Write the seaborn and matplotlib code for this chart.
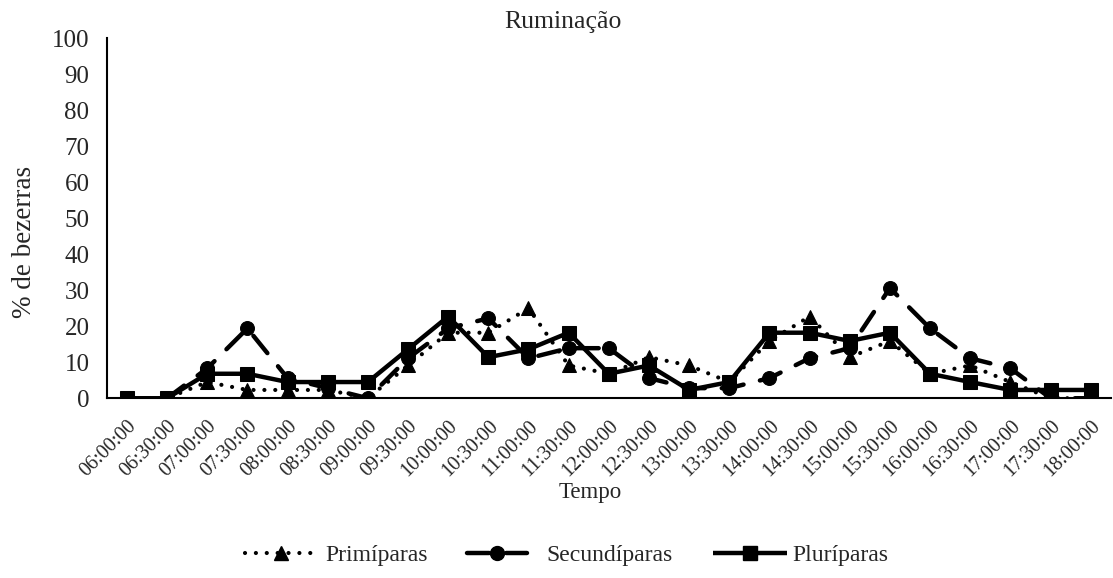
import matplotlib
matplotlib.use("Agg")
import matplotlib.pyplot as plt
from matplotlib.lines import Line2D
import seaborn as sns
import pandas as pd

# Horários de observação
tempos = ["06:00:00", "06:30:00", "07:00:00", "07:30:00", "08:00:00", "08:30:00",
          "09:00:00", "09:30:00", "10:00:00", "10:30:00", "11:00:00", "11:30:00",
          "12:00:00", "12:30:00", "13:00:00", "13:30:00", "14:00:00", "14:30:00",
          "15:00:00", "15:30:00", "16:00:00", "16:30:00", "17:00:00", "17:30:00",
          "18:00:00"]

# % de bezerras em ruminação por categoria de mãe
primiparas = [0, 0, 4.5, 2.3, 2.3, 2.3, 0, 9.1, 18.2, 18.2, 25.0, 9.1, 6.8,
              11.4, 9.1, 4.5, 15.9, 22.7, 11.4, 15.9, 6.8, 9.1, 4.5, 0, 0]
secundiparas = [0, 0, 8.3, 19.4, 5.6, 2.8, 0, 11.1, 19.4, 22.2, 11.1, 13.9, 13.9,
                5.6, 2.8, 2.8, 5.6, 11.1, 13.9, 30.6, 19.4, 11.1, 8.3, 0, 0]
pluriparas = [0, 0, 6.8, 6.8, 4.5, 4.5, 4.5, 13.6, 22.7, 11.4, 13.6, 18.2, 6.8,
              9.1, 2.3, 4.5, 18.2, 18.2, 15.9, 18.2, 6.8, 4.5, 2.3, 2.3, 2.3]

series = {"Primíparas": primiparas, "Secundíparas": secundiparas, "Pluríparas": pluriparas}

sns.set_theme(style="white")
plt.rcParams["font.family"] = ["Liberation Serif", "DejaVu Serif"]

fig = plt.figure(figsize=(11.13, 5.78), dpi=100)
ax = fig.add_axes([0.096, 0.311, 0.902, 0.623])

estilos = {
    "Primíparas": dict(marker="^", markersize=10.5, dashes=(0.01, 2.6), capstyle="round", lw=3.0),
    "Secundíparas": dict(marker="o", markersize=10, dashes=(5.0, 3.8), capstyle="round", lw=3.2),
    "Pluríparas": dict(marker="s", markersize=10, dashes=None, capstyle="butt", lw=3.2),
}

linhas = {}
for nome, valores in series.items():
    df = pd.DataFrame({"pos": range(len(tempos)), "valor": valores})
    st = estilos[nome]
    sns.lineplot(data=df, x="pos", y="valor", ax=ax, color="black",
                 marker=st["marker"], markersize=st["markersize"],
                 markeredgecolor="black", markerfacecolor="black",
                 linewidth=st["lw"], legend=False)
    line = ax.lines[-1]
    if st["dashes"] is not None:
        line.set_dashes(st["dashes"])
    line.set_dash_capstyle(st["capstyle"])
    line.set_solid_capstyle("butt")
    linhas[nome] = line

ax.set_xlim(-0.5, len(tempos) - 0.5)
ax.set_ylim(0, 100)
ax.set_yticks(range(0, 101, 10))
ax.set_xticks(range(len(tempos)))
ax.set_xticklabels(tempos, rotation=45, ha="right", rotation_mode="anchor", fontsize=14.5)
ax.tick_params(axis="y", length=0, pad=12.5, labelsize=18)
ax.tick_params(axis="x", direction="inout", length=9, width=1.5, color="black", pad=9)

for s in ["top", "right"]:
    ax.spines[s].set_visible(False)
for s in ["left", "bottom"]:
    ax.spines[s].set_color("black")
    ax.spines[s].set_linewidth(1.5)

ax.set_title("Ruminação", fontsize=18.5, pad=7, x=0.454)
ax.set_ylabel("% de bezerras", fontsize=19.5)
ax.yaxis.set_label_coords(-0.07, 0.435)
ax.set_xlabel("Tempo", fontsize=16.5)
ax.xaxis.set_label_coords(0.482, -0.233)

# Legenda: uma entrada por bloco, posicionadas lado a lado abaixo do gráfico
posicoes = {"Primíparas": (245, 3.05, 0.34), "Secundíparas": (467, 2.55, 0.8),
            "Pluríparas": (713, 3.15, 0.2)}
for nome, (xpx, hlen, tpad) in posicoes.items():
    ln = linhas[nome]
    h = Line2D([], [], color="black", marker=ln.get_marker(), markersize=ln.get_markersize(),
               linewidth=ln.get_linewidth(), linestyle=ln.get_linestyle(),
               dash_capstyle=ln.get_dash_capstyle(), solid_capstyle="butt")
    if estilos[nome]["dashes"] is not None:
        h.set_dashes(estilos[nome]["dashes"])
    leg = fig.legend(handles=[h], labels=[nome], loc="center left",
                     bbox_to_anchor=(xpx / 1113, 1 - 555 / 578),
                     frameon=False, fontsize=17, handlelength=hlen,
                     handletextpad=tpad, borderpad=0, borderaxespad=0)

fig.savefig("out.png", dpi=100)
